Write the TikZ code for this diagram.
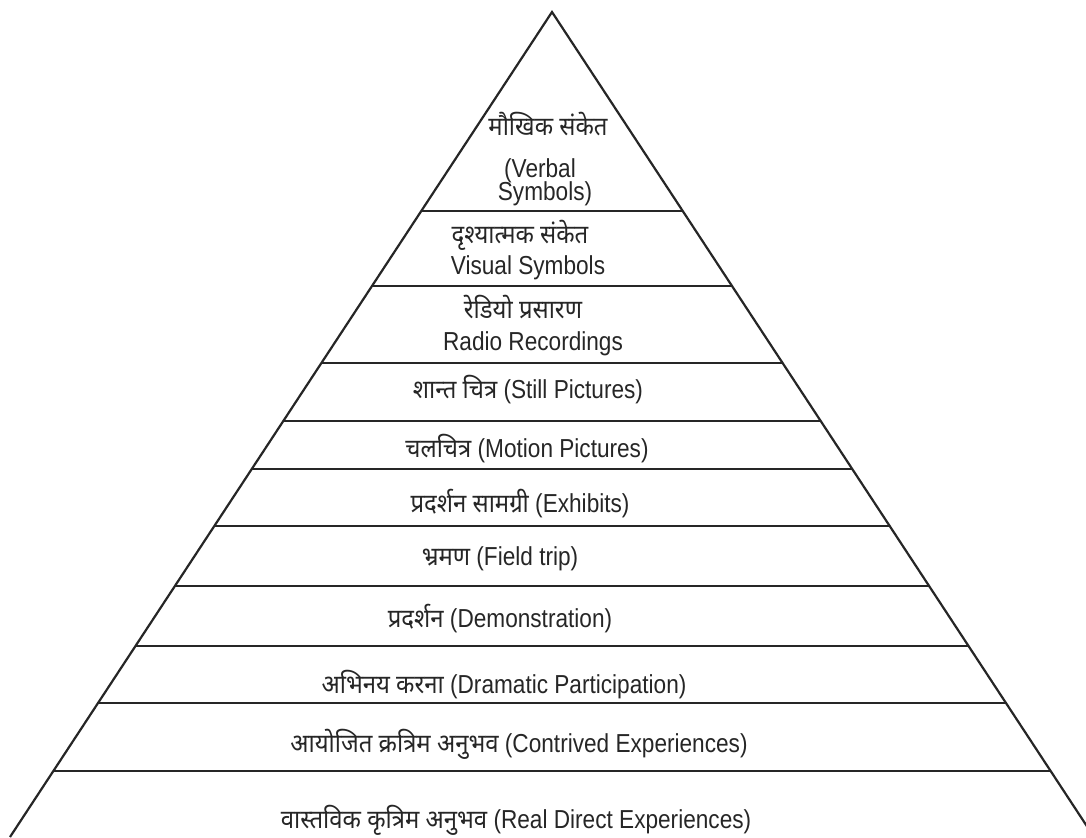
\documentclass[tikz,border=0pt]{standalone}
\usepackage{fontspec}
\setmainfont{Liberation Sans}[FakeStretch=0.87]
\newfontfamily\hindi[Script=Devanagari,FakeStretch=0.92]{Noto Sans}
\usetikzlibrary{calc}
\colorlet{myline}{black!85}

\begin{document}
\begin{tikzpicture}[x=0.5pt,y=-0.5pt]
\useasboundingbox (0,0) rectangle (1086,837);
\clip (0,0) rectangle (1086,837);
\tikzset{lbl/.style={inner sep=0,anchor=base,text=black!85,font=\fontsize{13pt}{15pt}\selectfont}}
\coordinate (apex) at (552,12);
\coordinate (bl) at (10,837);
\coordinate (br) at (1094,837);
\draw[myline,line width=1.1pt] (bl) -- (apex) -- (br);
\foreach \y in {211,286,363,421,469,526,586,646,703,771}
  \draw[myline,line width=1.1pt] ($(apex)!{(\y-12)/825}!(bl)$) -- ($(apex)!{(\y-12)/825}!(br)$);
% labels
\node[lbl] (verbalH) at (548,135) {\hindi मौखिक संकेत};
\node[lbl] (verbalE) at (540,177) {(Verbal};
\node[lbl] (verbalF) at (545,200) {Symbols)};
\node[lbl] (visualH) at (520,243) {\hindi दृश्यात्मक संकेत};
\node[lbl] (visualE) at (528,274) {Visual Symbols};
\node[lbl] (radioH) at (523,318) {\hindi रेडियो प्रसारण};
\node[lbl] (radioE) at (533,350) {Radio Recordings};
\node[lbl] (still) at (528,398) {{\hindi शान्त चित्र} (Still Pictures)};
\node[lbl] (motion) at (527,457) {{\hindi चलचित्र} (Motion Pictures)};
\node[lbl] (exhibit) at (520,512) {{\hindi प्रदर्शन सामग्री} (Exhibits)};
\node[lbl] (field) at (500,565) {{\hindi भ्रमण} (Field trip)};
\node[lbl] (demo) at (500,627) {{\hindi प्रदर्शन} (Demonstration)};
\node[lbl] (drama) at (504,693) {{\hindi अभिनय करना} (Dramatic Participation)};
\node[lbl] (contrived) at (519,752) {{\hindi आयोजित क्रत्रिम अनुभव} (Contrived Experiences)};
\node[lbl] (real) at (516,828) {{\hindi वास्तविक कृत्रिम अनुभव} (Real Direct Experiences)};
\end{tikzpicture}
\end{document}
